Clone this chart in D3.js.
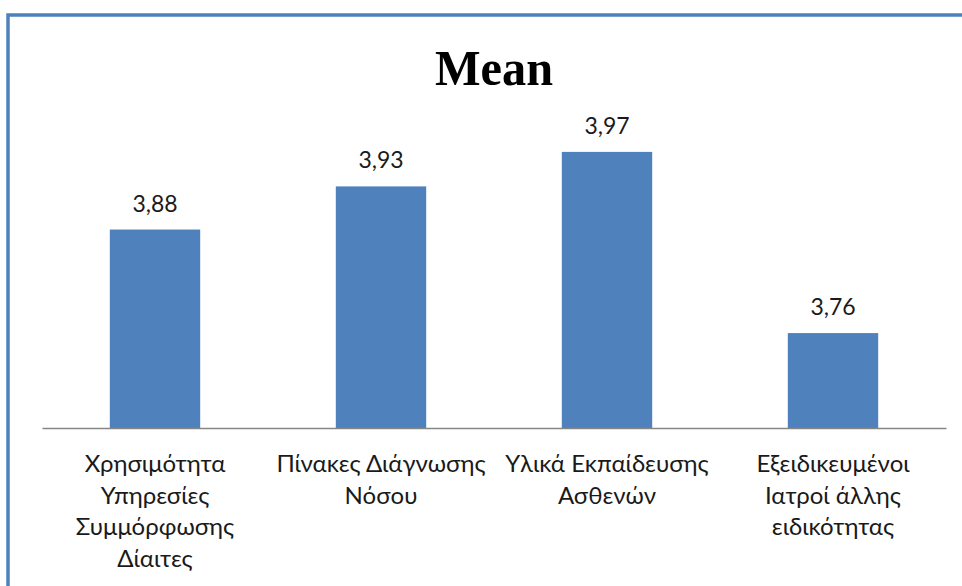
<!DOCTYPE html>
<html>
<head>
<meta charset="utf-8">
<script src="https://cdn.jsdelivr.net/npm/d3@7"></script>
<style>
  html, body { margin: 0; padding: 0; background: #fff; }
  svg { display: block; }
</style>
</head>
<body>
<svg id="chart" width="962" height="586"></svg>
<script>
const title = "Mean";
const categories = [
  ["Χρησιμότητα", "Υπηρεσίες", "Συμμόρφωσης", "Δίαιτες"],
  ["Πίνακες Διάγνωσης", "Νόσου"],
  ["Υλικά Εκπαίδευσης", "Ασθενών"],
  ["Εξειδικευμένοι", "Ιατροί άλλης", "ειδικότητας"]
];
const values = [3.88, 3.93, 3.97, 3.76];
const valueLabels = ["3,88", "3,93", "3,97", "3,76"];
const yDomain = [3.65, 4.0];

const svg = d3.select("#chart");
const W = 962, H = 586;
const baseY = 428, topY = 126;
const left = 42, right = 946;
const fontFam = "Lato, 'Noto Sans', sans-serif";

// frame
svg.append("rect")
  .attr("x", 8).attr("y", 15)
  .attr("width", W + 10).attr("height", H + 10)
  .attr("fill", "#fff")
  .attr("stroke", "#4F81BD").attr("stroke-width", 3.5);

const keys = categories.map((c, i) => "c" + i);
const x = d3.scaleBand().domain(keys).range([left, right])
  .paddingInner(0.6).paddingOuter(0.3);
const y = d3.scaleLinear().domain(yDomain).range([baseY, topY]);

// title
svg.append("text")
  .attr("x", 494).attr("y", 85)
  .attr("text-anchor", "middle")
  .attr("font-family", "'Liberation Serif', 'DejaVu Serif', serif")
  .attr("font-weight", "bold")
  .attr("font-size", 50)
  .attr("textLength", 118)
  .attr("lengthAdjust", "spacingAndGlyphs")
  .attr("fill", "#000")
  .text(title);

// bars
svg.append("g").selectAll("rect")
  .data(values)
  .join("rect")
  .attr("x", (d, i) => x(keys[i]))
  .attr("width", x.bandwidth())
  .attr("y", d => y(d))
  .attr("height", d => baseY - y(d))
  .attr("fill", "#4F81BD");

// value labels
svg.append("g").selectAll("text")
  .data(values)
  .join("text")
  .attr("x", (d, i) => x(keys[i]) + x.bandwidth() / 2)
  .attr("y", d => y(d) - 18)
  .attr("text-anchor", "middle")
  .attr("font-family", fontFam)
  .attr("font-size", 23)
  .attr("fill", "#1a1a1a")
  .text((d, i) => valueLabels[i]);

// baseline axis
const axis = d3.axisBottom(x).tickSize(0).tickFormat("");
const ag = svg.append("g").attr("transform", `translate(0,${baseY})`).call(axis);
ag.select(".domain").attr("stroke", "#868686").attr("stroke-width", 1.3);

// category labels
const lab = svg.append("g").selectAll("text")
  .data(categories)
  .join("text")
  .attr("text-anchor", "middle")
  .attr("font-family", fontFam)
  .attr("font-size", 24)
  .attr("fill", "#1a1a1a")
  .attr("transform", (d, i) => `translate(${x(keys[i]) + x.bandwidth() / 2},472)`);
lab.selectAll("tspan")
  .data(d => d)
  .join("tspan")
  .attr("x", 0)
  .attr("y", (d, j) => j * 31.5)
  .text(d => d);
</script>
</body>
</html>
